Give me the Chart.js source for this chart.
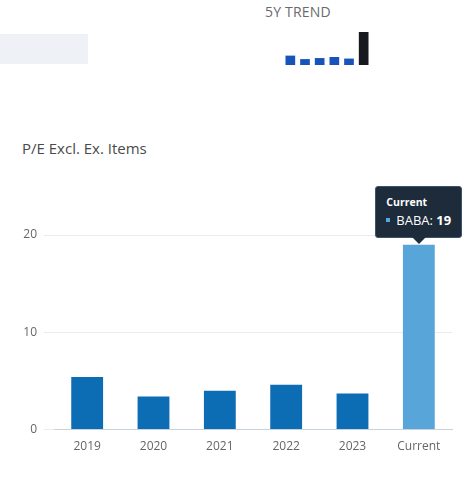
<!DOCTYPE html>
<html>
<head>
<meta charset="utf-8">
<script src="https://cdn.jsdelivr.net/npm/chart.js@4.4.0/dist/chart.umd.min.js"></script>
<style>
  body { margin: 0; width: 474px; height: 484px; background: #fff; position: relative; overflow: hidden; font-family: "Open Sans", sans-serif; }
  .trend-label { position: absolute; left: 265px; top: 2px; font-size: 14px; color: #6a6a6a; letter-spacing: 0.2px; }
  .placeholder { position: absolute; left: 0; top: 34px; width: 88px; height: 30px; background: #eef2f7; }
  .title { position: absolute; left: 22px; top: 138px; font-size: 15px; color: #4a4a4a; }
  #spark { position: absolute; left: 283px; top: 28px; }
  #main { position: absolute; left: 0; top: 180px; }
  #tip { position: absolute; background: #1d2b3b; border: 1px solid #3a536e; border-radius: 3px; color: #fff; padding: 8px 10px 8px 10px; font-size: 13px; pointer-events: none; white-space: nowrap; }
  #tip .t { font-size: 10.5px; font-weight: bold; margin-bottom: 2px; }
  #tip .dot { display: inline-block; width: 4px; height: 4px; background: #58a5d9; margin-right: 6px; vertical-align: middle; position: relative; top: -1px; }
  #tip:after { content: ""; position: absolute; left: 50%; margin-left: -7px; bottom: -7px; border-left: 7px solid transparent; border-right: 7px solid transparent; border-top: 7px solid #1d2b3b; }
</style>
</head>
<body>
<div class="trend-label">5Y TREND</div>
<div class="placeholder"></div>
<canvas id="spark" width="88" height="37"></canvas>
<div class="title">P/E Excl. Ex. Items</div>
<canvas id="main" width="474" height="284"></canvas>
<div id="tip" style="display:none"></div>

<script>
// P/E values
const years = ['2019', '2020', '2021', '2022', '2023', 'Current'];
const peValues = [5.4, 3.4, 4.0, 4.6, 3.7, 19];
const yTicks = [0, 10, 20];
const ticker = 'BABA';

// sparkline up top
new Chart(document.getElementById('spark'), {
    type: 'bar',
    data: {
        labels: years,
        datasets: [{
            data: peValues,
            backgroundColor: peValues.map((v, i) => i === peValues.length - 1 ? '#17191f' : '#1753b9'),
            barPercentage: 0.66,
            categoryPercentage: 1,
        }]
    },
    options: {
        responsive: false,
        animation: false,
        layout: { padding: { top: 4 } },
        plugins: { legend: { display: false }, tooltip: { enabled: false } },
        scales: {
            x: { display: false },
            y: { display: false, min: 0, max: 19 },
        },
    },
});

const tipEl = document.getElementById('tip');

const externalTip = ({ chart, tooltip }) => {
    if (tooltip.opacity === 0) {
        tipEl.style.display = 'none';
        return;
    }
    const p = tooltip.dataPoints[0];
    tipEl.innerHTML = '<div class="t">' + p.label + '</div>' +
        '<div><span class="dot"></span>' + p.dataset.label + ': <b>' + p.raw + '</b></div>';
    tipEl.style.display = 'block';
    const x = chart.canvas.offsetLeft + tooltip.caretX;
    const y = chart.canvas.offsetTop + tooltip.caretY;
    tipEl.style.left = (x - tipEl.offsetWidth / 2) + 'px';
    tipEl.style.top = (y - tipEl.offsetHeight - 7) + 'px';
};

const mainChart = new Chart(document.getElementById('main'), {
    type: 'bar',
    data: {
        labels: years,
        datasets: [{
            label: ticker,
            data: peValues,
            backgroundColor: peValues.map((v, i) => i === peValues.length - 1 ? '#58a5d9' : '#0c6db4'),
            hoverBackgroundColor: '#58a5d9',
            barPercentage: 0.48,
            categoryPercentage: 1,
        }]
    },
    options: {
        responsive: false,
        animation: false,
        layout: { padding: { top: 55, right: 22, left: 0, bottom: 0 } },
        plugins: {
            legend: { display: false },
            tooltip: { enabled: false, external: externalTip },
        },
        scales: {
            x: {
                grid: { display: false, drawTicks: false },
                border: { color: '#c9d1dc' },
                ticks: { color: '#666', padding: 10, font: { family: 'Open Sans', size: 12 } },
            },
            y: {
                min: 0,
                max: 20,
                afterBuildTicks: (axis) => { axis.ticks = yTicks.map(v => ({ value: v })); },
                afterFit: (axis) => { axis.width = 54; },
                grid: { color: '#ebebeb', tickLength: 10 },
                border: { display: false },
                ticks: { color: '#666', padding: 7, font: { family: 'Open Sans', size: 12 } },
            },
        },
    },
});

const last = peValues.length - 1;
const bar = mainChart.getDatasetMeta(0).data[last];
mainChart.tooltip.setActiveElements([{ datasetIndex: 0, index: last }], { x: bar.x, y: bar.y });
mainChart.update();
</script>
</body>
</html>
